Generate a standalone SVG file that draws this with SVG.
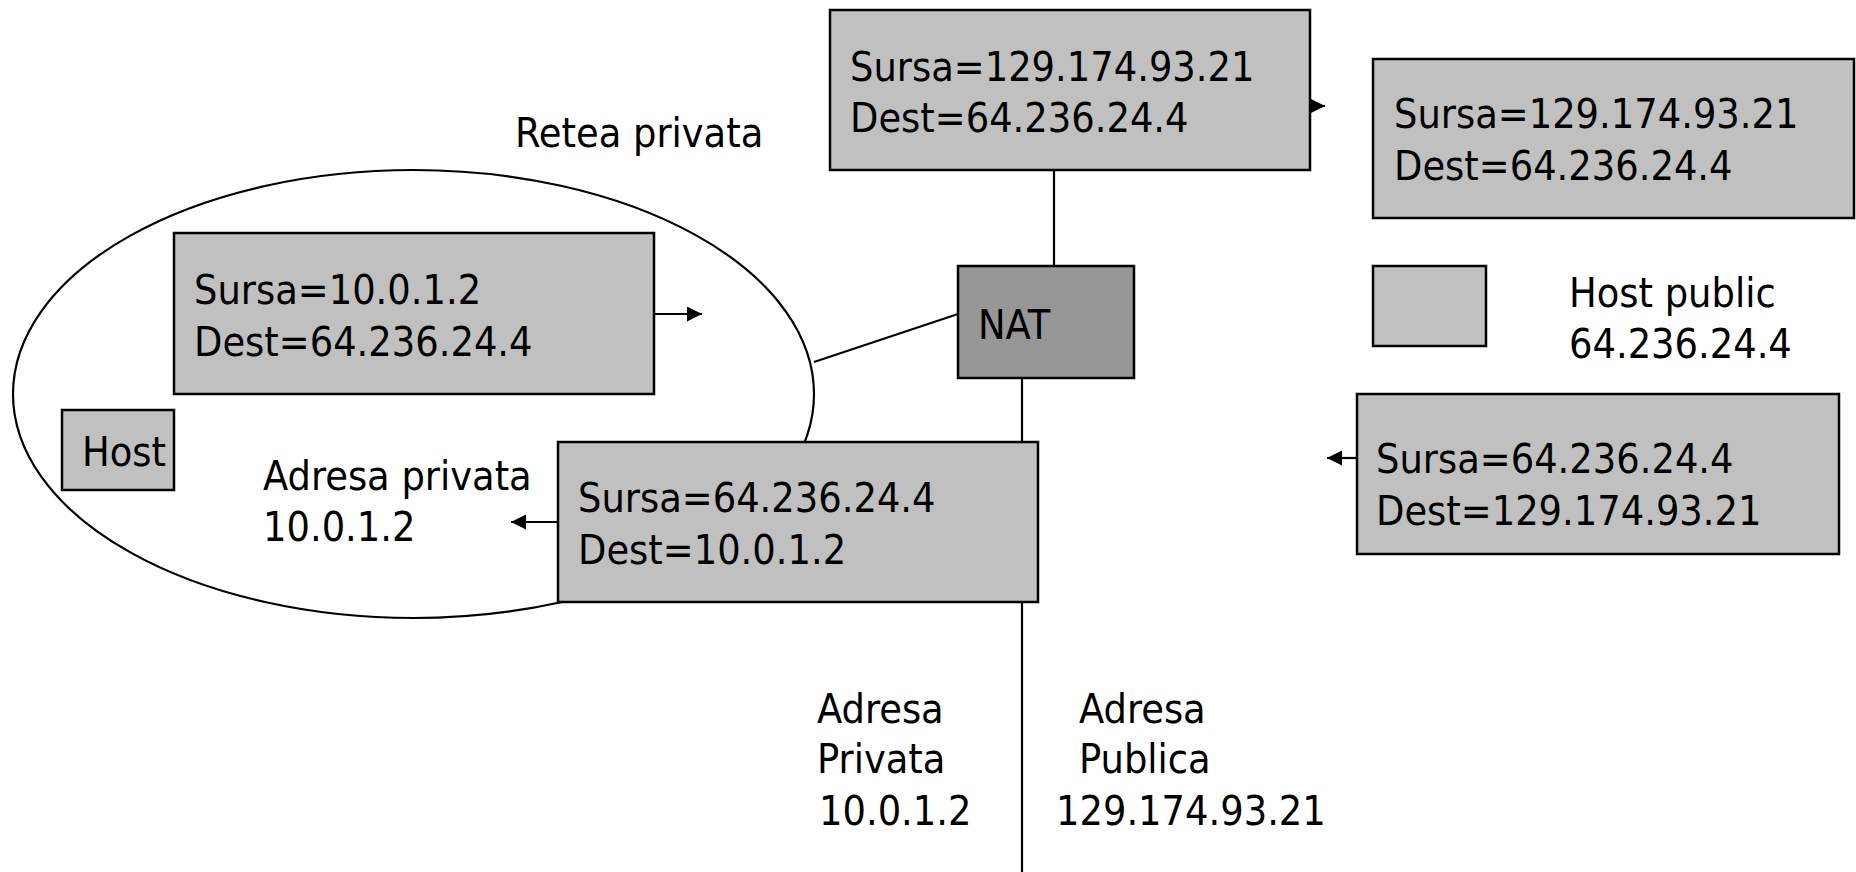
<svg xmlns="http://www.w3.org/2000/svg" width="1856" height="872" viewBox="0 0 1856 872">
  <style>
    .pkt { fill: #c0c0c0; stroke: #000; stroke-width: 2.5; }
    .nat { fill: #969696; stroke: #000; stroke-width: 2.5; }
    .wire { stroke: #000; stroke-width: 2.2; fill: none; }
    .lbl { font-family: "DejaVu Sans Condensed", "DejaVu Sans", sans-serif; font-stretch: condensed; font-size: 41px; fill: #000; }
  </style>
  <defs>
    <marker id="head" markerUnits="userSpaceOnUse" markerWidth="16" markerHeight="16" refX="15" refY="7.5" orient="auto">
      <path d="M0,0 L15,7.5 L0,15 z" fill="#000"/>
    </marker>
  </defs>

  <rect width="1856" height="872" fill="#fff"/>

  <!-- private network boundary -->
  <g id="private-net">
    <ellipse cx="413.5" cy="394" rx="400.5" ry="224" class="wire"/>
    <text class="lbl" x="515" y="147">Retea privata</text>
  </g>

  <!-- links and packet-direction arrows -->
  <g id="connectors">
    <line class="wire" x1="1054" y1="170" x2="1054" y2="266"/>
    <line class="wire" x1="1022" y1="378" x2="1022" y2="872"/>
    <line class="wire" x1="814" y1="362" x2="958" y2="314"/>
    <line class="wire" x1="1309" y1="106" x2="1325" y2="106" marker-end="url(#head)"/>
    <line class="wire" x1="654" y1="314" x2="702" y2="314" marker-end="url(#head)"/>
    <line class="wire" x1="558" y1="522" x2="511" y2="522" marker-end="url(#head)"/>
    <line class="wire" x1="1357" y1="458" x2="1327" y2="458" marker-end="url(#head)"/>
  </g>

  <g id="pkt-out-public">
    <rect class="pkt" x="830" y="10" width="480" height="160"/>
    <text class="lbl" x="850" y="81">Sursa=129.174.93.21</text>
    <text class="lbl" x="850" y="132">Dest=64.236.24.4</text>
  </g>

  <g id="pkt-at-host">
    <rect class="pkt" x="1373" y="59" width="481" height="159"/>
    <text class="lbl" x="1394" y="128">Sursa=129.174.93.21</text>
    <text class="lbl" x="1394" y="180">Dest=64.236.24.4</text>
  </g>

  <g id="host-public">
    <rect class="pkt" x="1373" y="266" width="113" height="80"/>
    <text class="lbl" x="1569" y="307">Host public</text>
    <text class="lbl" x="1569" y="358">64.236.24.4</text>
  </g>

  <g id="pkt-out-private">
    <rect class="pkt" x="174" y="233" width="480" height="161"/>
    <text class="lbl" x="194" y="304">Sursa=10.0.1.2</text>
    <text class="lbl" x="194" y="356">Dest=64.236.24.4</text>
  </g>

  <g id="nat">
    <rect class="nat" x="958" y="266" width="176" height="112"/>
    <text class="lbl" x="978" y="339">NAT</text>
  </g>

  <g id="host">
    <rect class="pkt" x="62" y="410" width="112" height="80"/>
    <text class="lbl" x="82" y="466">Host</text>
  </g>

  <g id="private-addr">
    <text class="lbl" x="263" y="490">Adresa privata</text>
    <text class="lbl" x="263" y="541">10.0.1.2</text>
  </g>

  <g id="pkt-in-private">
    <rect class="pkt" x="558" y="442" width="480" height="160"/>
    <text class="lbl" x="578" y="512">Sursa=64.236.24.4</text>
    <text class="lbl" x="578" y="564">Dest=10.0.1.2</text>
  </g>

  <g id="pkt-in-public">
    <rect class="pkt" x="1357" y="394" width="482" height="160"/>
    <text class="lbl" x="1376" y="473">Sursa=64.236.24.4</text>
    <text class="lbl" x="1376" y="525">Dest=129.174.93.21</text>
  </g>

  <g id="nat-private-side">
    <text class="lbl" x="817" y="723">Adresa</text>
    <text class="lbl" x="817" y="773">Privata</text>
    <text class="lbl" x="819" y="825">10.0.1.2</text>
  </g>

  <g id="nat-public-side">
    <text class="lbl" x="1079" y="723">Adresa</text>
    <text class="lbl" x="1079" y="773">Publica</text>
    <text class="lbl" x="1056" y="825">129.174.93.21</text>
  </g>
</svg>
